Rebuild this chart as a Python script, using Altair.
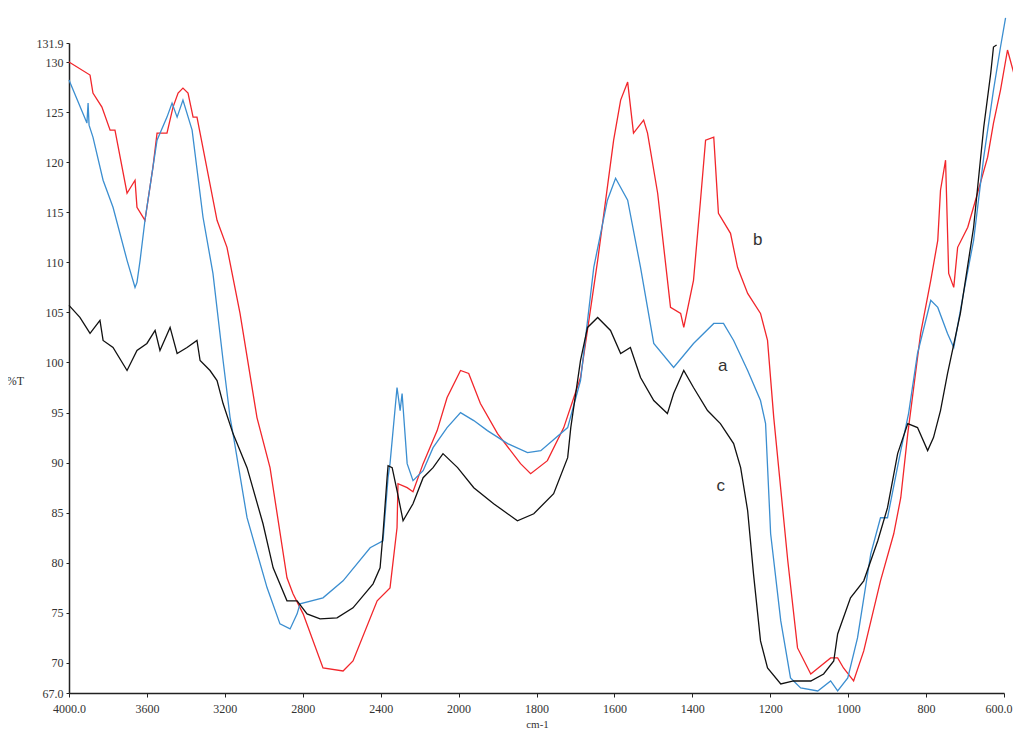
import altair as alt
import pandas as pd

# Series b (red)
red_wn = [4000, 3892, 3877, 3831, 3789, 3764, 3702, 3661, 3651, 3610, 3569, 3548, 3497, 3466, 3440, 3415,
          3389, 3363, 3343, 3327, 3240, 3189, 3122, 3035, 2968, 2881, 2850, 2798, 2696, 2593, 2542, 2418,
          2352, 2316, 2311, 2264, 2234, 2182, 2110, 2059, 1995, 1974, 1944, 1900, 1841, 1815, 1772, 1730,
          1687, 1643, 1602, 1584, 1566, 1551, 1525, 1515, 1489, 1456, 1430, 1422, 1397, 1379, 1366, 1345,
          1333, 1302, 1284, 1258, 1225, 1207, 1191, 1155, 1130, 1096, 1045, 1027, 1012, 986, 960, 917,
          883, 865, 847, 814, 788, 770, 763, 750, 742, 729, 719, 693, 668, 642, 627, 609, 591, 575, 570, 568]
red_t = [130.0, 128.7, 126.9, 125.5, 123.2, 123.2, 116.9, 118.2, 115.5, 114.2, 119.5, 122.9, 122.9, 125.5, 126.9, 127.4,
         126.9, 124.5, 124.5, 122.9, 114.2, 111.5, 104.9, 94.5, 89.5, 78.5, 76.9, 74.9, 69.5, 69.2, 70.2, 76.2,
         77.5, 83.5, 87.9, 87.5, 87.1, 89.9, 93.2, 96.5, 99.2, 98.9, 95.9, 92.9, 89.9, 88.9, 90.2, 93.5,
         98.5, 110.2, 122.2, 126.2, 128.0, 122.9, 124.2, 122.9, 116.9, 105.5, 104.9, 103.5, 108.2, 116.2, 122.2, 122.5,
         114.9, 112.9, 109.5, 106.9, 104.9, 102.2, 94.5, 80.2, 71.5, 68.9, 70.5, 70.5, 69.5, 68.2, 71.2, 78.2,
         82.9, 86.5, 92.9, 102.9, 108.2, 112.2, 117.2, 120.2, 108.9, 107.5, 111.5, 113.5, 116.9, 120.5, 123.9, 127.2, 131.2, 128.9, 125.5, 116.5]

# Series a (blue)
blue_wn = [4000, 3908, 3902, 3897, 3877, 3825, 3774, 3702, 3661, 3651, 3635, 3610, 3569, 3548, 3497, 3471,
           3445, 3415, 3368, 3312, 3261, 3209, 3173, 3158, 3086, 2983, 2917, 2865, 2829, 2814, 2696, 2593,
           2454, 2388, 2362, 2352, 2316, 2300, 2290, 2264, 2234, 2182, 2131, 2059, 1995, 1961, 1926, 1874,
           1823, 1789, 1720, 1687, 1653, 1618, 1597, 1566, 1533, 1499, 1448, 1397, 1345, 1320, 1294, 1258,
           1225, 1212, 1199, 1173, 1148, 1122, 1078, 1045, 1027, 1001, 976, 942, 917, 899, 865, 845,
           822, 788, 770, 745, 729, 704, 678, 652, 627, 609, 596]
blue_t = [128.2, 123.9, 125.9, 123.7, 122.5, 118.2, 115.5, 110.2, 107.5, 108.0, 110.2, 114.2, 119.5, 122.2, 124.5, 125.9,
          124.5, 126.2, 123.2, 114.5, 108.9, 100.2, 94.5, 92.9, 84.5, 77.5, 73.9, 73.4, 74.9, 75.9, 76.5, 78.2,
          81.5, 82.2, 88.5, 89.9, 97.5, 95.2, 96.9, 89.9, 88.2, 89.2, 91.5, 93.5, 95.0, 94.2, 93.2, 91.9,
          91.0, 91.2, 93.5, 98.2, 109.5, 116.2, 118.4, 116.2, 109.5, 101.9, 99.5, 101.9, 103.9, 103.9, 102.2, 99.2,
          96.2, 93.9, 82.9, 74.2, 68.5, 67.5, 67.2, 68.2, 67.2, 68.5, 72.5, 80.9, 84.5, 84.5, 91.2, 94.9,
          100.9, 106.2, 105.5, 102.9, 101.5, 106.9, 112.2, 120.5, 127.2, 131.5, 134.4]

# Series c (black)
black_wn = [4000, 3944, 3892, 3841, 3825, 3774, 3702, 3651, 3600, 3558, 3533, 3481, 3445, 3394, 3343, 3327,
            3276, 3240, 3209, 3158, 3086, 3004, 2952, 2881, 2829, 2778, 2711, 2624, 2542, 2439, 2403, 2388,
            2367, 2362, 2341, 2316, 2285, 2234, 2182, 2131, 2080, 2005, 1961, 1910, 1849, 1807, 1756, 1720,
            1712, 1687, 1669, 1643, 1610, 1584, 1559, 1533, 1499, 1464, 1448, 1422, 1397, 1361, 1328, 1294,
            1276, 1258, 1243, 1225, 1207, 1173, 1140, 1096, 1063, 1037, 1027, 994, 960, 924, 899, 873,
            847, 822, 796, 781, 763, 745, 712, 678, 652, 634, 627, 619]
black_t = [105.7, 104.5, 102.9, 104.2, 102.2, 101.5, 99.2, 101.2, 101.9, 103.2, 101.2, 103.5, 100.9, 101.5, 102.2, 100.2,
           99.2, 98.2, 95.9, 92.9, 89.5, 83.9, 79.5, 76.2, 76.2, 74.9, 74.4, 74.5, 75.5, 77.9, 79.5, 82.9,
           88.5, 89.7, 89.5, 87.2, 84.2, 85.9, 88.5, 89.5, 90.9, 89.5, 87.5, 85.9, 84.2, 84.9, 86.9, 90.5,
           93.5, 100.2, 103.5, 104.5, 103.2, 100.9, 101.5, 98.5, 96.2, 94.9, 96.9, 99.2, 97.5, 95.2, 93.9, 91.9,
           89.5, 85.2, 78.9, 72.2, 69.5, 67.9, 68.2, 68.2, 68.9, 70.2, 72.9, 76.5, 78.2, 82.2, 85.5, 90.9,
           93.9, 93.5, 91.2, 92.5, 95.2, 98.9, 104.9, 113.5, 123.5, 128.9, 131.5, 131.7]

series_names = ["b", "a", "c"]
series_colors = ["#f2262b", "#3b8ed0", "#111111"]

label_text = ["a", "b", "c"]
label_wn = [1322, 1232, 1327]
label_t = [99.6, 112.2, 87.7]

x_ticks = [4000, 3600, 3200, 2800, 2400, 2000, 1800, 1600, 1400, 1200, 1000, 800, 600]
y_ticks = [67.0, 70, 75, 80, 85, 90, 95, 100, 105, 110, 115, 120, 125, 130, 131.9]

W, H = 935, 650

frames = []
for name, wn, t in [("b", red_wn, red_t), ("a", blue_wn, blue_t), ("c", black_wn, black_t)]:
    frames.append(pd.DataFrame({"wn": wn, "t": t, "s": name}))
df = pd.concat(frames, ignore_index=True)
labels_df = pd.DataFrame({"wn": label_wn, "t": label_t, "txt": label_text})

xscale = alt.Scale(domain=[4000, 2000, 600], range=[0, W * 5 / 12, W], nice=False, zero=False)
yscale = alt.Scale(domain=[67.0, 131.9], nice=False, zero=False)

lines = alt.Chart(df).mark_line(strokeWidth=1.3).encode(
    x=alt.X("wn:Q", scale=xscale,
            axis=alt.Axis(values=x_ticks, title="cm-1", grid=False,
                          labelExpr="datum.value == 4000 ? '4000.0' : (datum.value == 600 ? '600.0' : datum.label)",
                          labelAlign={"condition": {"test": "datum.value == 600", "value": "right"}, "value": "center"},
                          labelOffset={"condition": {"test": "datum.value == 600", "value": 8}, "value": 0},
                          format="d", labelFont="Liberation Serif", labelFontSize=12, labelColor="#333",
                          labelPadding=6, tickSize=4, tickColor="#222", domainColor="#222", domainWidth=1.5,
                          titleFont="Liberation Serif", titleFontSize=11, titleFontWeight="normal",
                          titleColor="#333", titleX=468, titleY=34, titleBaseline="alphabetic", titleAlign="center",
                          labelFlush=False, labelOverlap=False)),
    y=alt.Y("t:Q", scale=yscale,
            axis=alt.Axis(values=y_ticks, title="%T", grid=False,
                          labelExpr="datum.value == 67 ? '67.0' : (datum.value == 131.9 ? '131.9' : format(datum.value, 'd'))",
                          labelFont="Liberation Serif", labelFontSize=12, labelColor="#333",
                          labelPadding=3, tickSize=3, tickColor="#222", domainColor="#222", domainWidth=1.5,
                          titleFont="Liberation Serif", titleFontSize=12, titleFontWeight="normal",
                          titleColor="#333", titleAngle=0, titleX=-54, titleY=337,
                          titleBaseline="middle", titleAlign="center",
                          labelFlush=False, labelOverlap=False)),
    color=alt.Color("s:N", scale=alt.Scale(domain=series_names, range=series_colors), legend=None),
    order=alt.Order("wn:Q"),
)

texts = alt.Chart(labels_df).mark_text(font="Liberation Sans", fontSize=17, color="#333").encode(
    x=alt.X("wn:Q", scale=xscale),
    y=alt.Y("t:Q", scale=yscale),
    text="txt:N",
)

chart = alt.layer(lines, texts).properties(
    width=W, height=H,
    autosize=alt.AutoSizeParams(type="none"),
    padding={"left": 61, "top": 35, "right": 9, "bottom": 35},
).configure_view(stroke=None)

chart.save("out.html", embed_options={"renderer": "svg", "actions": False})
